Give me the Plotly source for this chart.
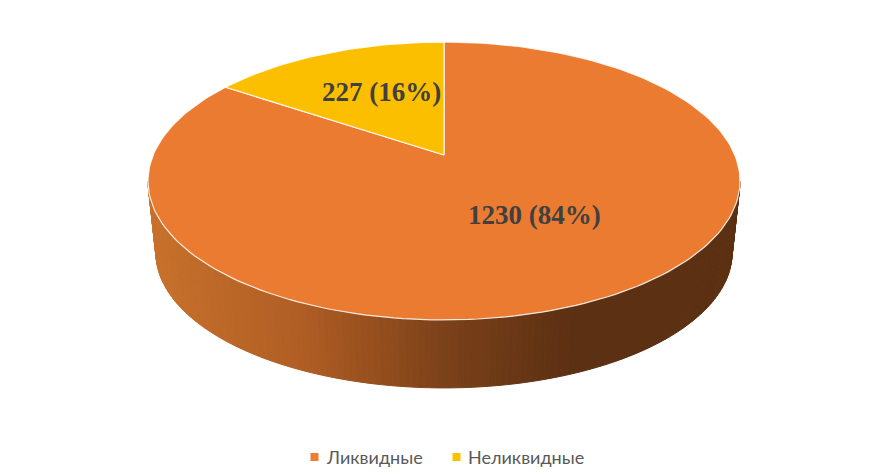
import math
import plotly.graph_objects as go

categories = ["Ликвидные", "Неликвидные"]
values = [1230, 227]
percents = [84, 16]
slice_colors = ["#ED7D31", "#FFC000"]
top_colors = ["#EB7B31", "#FCBF00"]

W, H = 894, 475
# projection of the pie disc (perspective view)
K = 0.187
TOP = dict(cx=444, cy=155, a=290.8, b=134.1)
BASE = dict(cx=444, cy=227.4, a=283.0, b=130.5)
# shading of the wall by screen x
WALL_STOPS = [(150, (200, 113, 44)), (300, (176, 94, 36)), (370, (152, 80, 30)),
              (440, (124, 66, 26)), (570, (92, 48, 18)), (740, (92, 48, 18))]


def project(theta, p, r=1.0):
    """theta: clockwise from 12 o'clock, radians."""
    X, Y = r * math.sin(theta), r * math.cos(theta)
    d = 1 + K * Y
    return p["cx"] + p["a"] * X / d, p["cy"] - p["b"] * Y / d


def wall_color(x):
    for (x0, c0), (x1, c1) in zip(WALL_STOPS, WALL_STOPS[1:]):
        if x <= x1:
            t = max(0, (x - x0) / (x1 - x0))
            return "rgb(%d,%d,%d)" % tuple(round(a + (b - a) * t) for a, b in zip(c0, c1))
    return "rgb(%d,%d,%d)" % WALL_STOPS[-1][1]


def th_widest():
    # angle where the projected disc is widest
    return math.acos(-K)


fig = go.Figure()
total = sum(values)

# wall strips along the visible front rim
t_r = th_widest()
t_l = 2 * math.pi - t_r
N = 150
for i in range(N):
    a0 = t_r + (t_l - t_r) * i / N
    a1 = t_r + (t_l - t_r) * (i + 1) / N
    p = [project(a0, TOP), project(a1, TOP), project(a1, BASE), project(a0, BASE)]
    xs = [q[0] for q in p] + [p[0][0]]
    ys = [q[1] for q in p] + [p[0][1]]
    col = wall_color(sum(xs[:4]) / 4)
    fig.add_trace(go.Scatter(x=xs, y=ys, mode="lines", fill="toself", fillcolor=col,
                             line=dict(color=col, width=1), hoverinfo="skip", showlegend=False))

# top slices: first slice starts at 12 o'clock and runs clockwise
start = 0.0
for v, col in zip(values, top_colors):
    sweep = 2 * math.pi * v / total
    n = max(4, int(240 * v / total))
    pts = [project(start + sweep * j / n, TOP) for j in range(n + 1)]
    xs = [TOP["cx"]] + [q[0] for q in pts] + [TOP["cx"]]
    ys = [TOP["cy"]] + [q[1] for q in pts] + [TOP["cy"]]
    fig.add_trace(go.Scatter(x=xs, y=ys, mode="lines", fill="toself", fillcolor=col,
                             line=dict(color="rgba(255,255,255,0.85)", width=1.2),
                             hoverinfo="skip", showlegend=False))
    start += sweep

# legend: square key followed by its label
legend_key_x = [314.5, 456.5]
legend_y = 457
fig.add_trace(go.Scatter(x=legend_key_x, y=[legend_y] * 2, mode="markers",
                         marker=dict(symbol="square", size=8, color=slice_colors),
                         hoverinfo="skip", showlegend=False))
annotations = [dict(x=x + 11.5, y=legend_y, xref="x", yref="y", xanchor="left", showarrow=False,
                    text=name, xshift=-2, font=dict(family="Lato", size=18, color="#595959"))
               for x, name in zip(legend_key_x, categories)]

# data labels
label_pos = [(534.5, 215), (381, 92)]
annotations += [dict(x=x, y=y, xref="x", yref="y", showarrow=False,
                     text=f"{v} ({p}%)",
                     font=dict(family="Liberation Serif", size=27, color="#404040", weight="bold"))
                for (x, y), v, p in zip(label_pos, values, percents)]

fig.update_layout(
    width=W, height=H, margin=dict(l=0, r=0, t=0, b=0),
    paper_bgcolor="white", plot_bgcolor="white",
    xaxis=dict(range=[0, W], visible=False, fixedrange=True),
    yaxis=dict(range=[H, 0], visible=False, fixedrange=True),
    annotations=annotations,
    showlegend=False,
)
fig.write_html("out.html", config=dict(displayModeBar=False),
               post_script="document.body.style.margin='0';document.body.style.overflow='hidden';")
